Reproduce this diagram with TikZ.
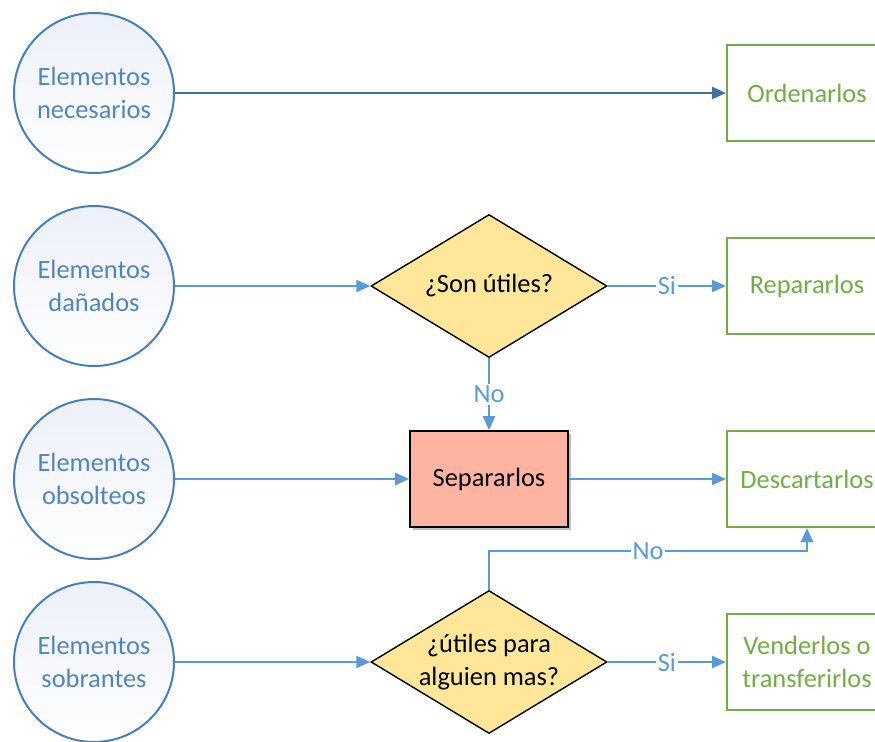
\documentclass[tikz,border=0pt]{standalone}
\usepackage{fontspec}
\setmainfont{Carlito}
\usetikzlibrary{shapes.geometric,arrows.meta,shadows}

\definecolor{circline}{HTML}{4A7EBB}
\definecolor{circtext}{HTML}{5085C2}
\definecolor{circtop}{HTML}{ECF0F9}
\definecolor{flowblue}{HTML}{5B9BD5}
\definecolor{darkflow}{HTML}{41719C}
\definecolor{askfill}{HTML}{FFE699}
\definecolor{sepfill}{HTML}{FFB3A1}
\definecolor{okgreen}{HTML}{70AD47}

\begin{document}
\begin{tikzpicture}[
    x=0.5pt, y=-0.5pt,
    every node/.style={font=\fontsize{13.2}{16.5}\selectfont},
    source/.style={circle, draw=circline, line width=1pt, minimum size=80pt, inner sep=0pt,
        align=center, text=circtext, top color=circtop, bottom color=white},
    question/.style={diamond, draw=black, line width=0.7pt, aspect=1.65, minimum width=118pt,
        minimum height=71.5pt, inner sep=0pt, fill=askfill, align=center},
    action/.style={rectangle, draw=okgreen, line width=1pt, minimum width=80pt, minimum height=48pt,
        text=okgreen, align=center},
    sepbox/.style={rectangle, draw=black, line width=0.8pt, fill=sepfill, minimum width=79pt,
        minimum height=48pt, drop shadow={opacity=0.5, shadow xshift=1.5pt, shadow yshift=-1.5pt}},
    arrow/.style={-{Triangle[length=7pt,width=6pt]}, line width=1.2pt, draw=flowblue},
    answer/.style={fill=white, text=flowblue, inner sep=1pt}
]
\clip (0,0) rectangle (875,741);

% left column
\node[source] (needed) at (94,93) {Elementos\\necesarios};
\node[source] (damaged) at (94,286) {Elementos\\dañados};
\node[source] (obsolete) at (94,479) {Elementos\\obsolteos};
\node[source] (surplus) at (94,662) {Elementos\\sobrantes};

% middle column
\node[question] (useful) at (489,286) {¿Son útiles?};
\node[sepbox] (separate) at (489,479) {Separarlos};
\node[question] (others) at (489,662) {¿útiles para\\alguien mas?};

% right column
\node[action] (sort) at (807,93) {Ordenarlos};
\node[action] (repair) at (807,286) {Repararlos};
\node[action] (discard) at (807,479) {Descartarlos};
\node[action] (sell) at (807,662) {Venderlos o\\transferirlos};

\draw[arrow, draw=darkflow] (needed) -- (sort);
\draw[arrow] (damaged) -- (useful);
\draw[arrow] (useful) -- node[answer] {Si} (repair);
\draw[arrow] (useful) -- node[answer] {No} (separate);
\draw[arrow] (obsolete) -- (separate);
\draw[arrow] (separate) -- (discard);
\draw[arrow] (others.north) -- ++(0,-39) -| node[pos=0.25, answer] {No} (discard.south);
\draw[arrow] (surplus) -- (others);
\draw[arrow] (others) -- node[answer] {Si} (sell);
\end{tikzpicture}
\end{document}
